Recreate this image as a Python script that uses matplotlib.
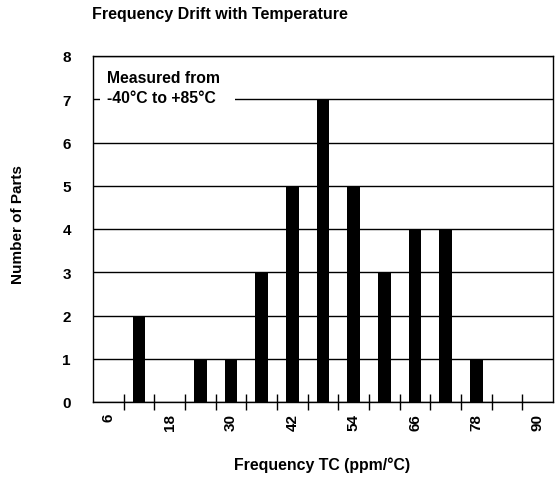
import matplotlib.pyplot as plt
import matplotlib.patches as mpatches
import numpy as np

plt.rcParams['font.family'] = ['Liberation Sans', 'DejaVu Sans']
plt.rcParams['font.weight'] = 'bold'

# Frequency TC bins (ppm/°C) and number of parts in each
tc_bins = [6, 12, 18, 24, 30, 36, 42, 48, 54, 60, 66, 72, 78, 84, 90]
num_parts = [0, 2, 0, 1, 1, 3, 5, 7, 5, 3, 4, 4, 1, 0, 0]
label_ticks = [6, 18, 30, 42, 54, 66, 78, 90]

fig = plt.figure(figsize=(5.55, 4.81), dpi=100)
ax = fig.add_axes([93 / 555, 1 - 403 / 481, 460 / 555, 346 / 481])

ax.bar(tc_bins, num_parts, width=2.5, color='black', zorder=3)

ax.set_xlim(3, 93)
ax.set_ylim(0, 8)
ax.set_yticks(range(0, 9))
ax.grid(axis='y', color='black', linewidth=1, zorder=1)

# labels sit at every other bin, ticks sit between the bins
ax.set_xticks(label_ticks)
ax.set_xticklabels([str(v) for v in label_ticks], rotation=90, fontsize=11, fontweight='bold')
ax.tick_params(axis='x', which='major', length=0, pad=8)
ax.set_xticks(np.array(tc_bins[:-1]) + 3, minor=True)
ax.tick_params(axis='x', which='minor', direction='inout', length=11, width=1, color='black')
ax.tick_params(axis='y', length=0, labelsize=11, pad=16)
for lbl in ax.get_yticklabels():
    lbl.set_fontweight('bold')

for s in ax.spines.values():
    s.set_linewidth(1)

# white patch behind the note, hides part of the 7 gridline
ax.add_patch(mpatches.Rectangle((0.015, 0.83), 0.294, 0.16, transform=ax.transAxes,
                                facecolor='white', edgecolor='none', zorder=2))
ax.text(0.031, 0.96, "Measured from\n-40°C to +85°C", transform=ax.transAxes,
        fontsize=11.3, fontweight='bold', va='top', ha='left', linespacing=1.45, zorder=4)

fig.text(92 / 555, 1 - 14 / 481, "Frequency Drift with Temperature",
         fontsize=11.5, fontweight='bold', ha='left', va='center')
fig.text(18 / 555, 1 - 225 / 481, "Number of Parts", rotation=90,
         fontsize=11, fontweight='bold', ha='center', va='center')
fig.text(322 / 555, 1 - 465 / 481, "Frequency TC (ppm/°C)",
         fontsize=11.4, fontweight='bold', ha='center', va='center')

fig.savefig('out.png', dpi=100)
